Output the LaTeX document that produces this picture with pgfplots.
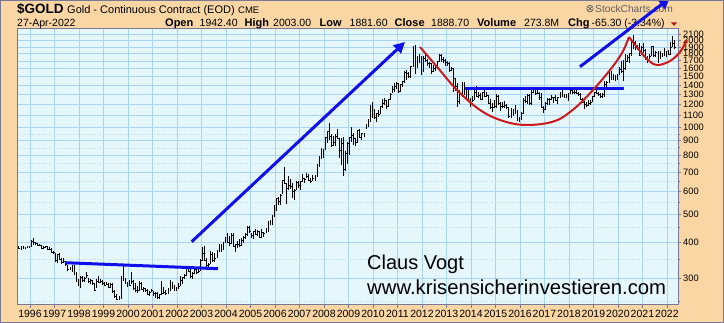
\documentclass[border=0pt]{standalone}
\usepackage{pgfplots}
\pgfplotsset{compat=1.18}
\usepackage{pgfplotstable}
\usepackage{fontspec}
\setmainfont{Liberation Sans}
\usetikzlibrary{arrows.meta}
\definecolor{outerbg}{RGB}{251,214,165}
\definecolor{plotbg}{RGB}{230,247,251}
\definecolor{gridmaj}{RGB}{168,212,245}
\definecolor{gridmin}{RGB}{185,222,246}
\definecolor{frameC}{RGB}{120,120,150}
\definecolor{annBlue}{RGB}{15,15,235}
\definecolor{annRed}{RGB}{205,25,25}
\definecolor{scgray}{RGB}{95,95,95}

\pgfplotstableread{
yr mo h l c
1995 7 390 381 383
1995 8 389 378 384
1995 9 388 381 384
1995 10 387 381 383
1995 11 389 383 387
1995 12 390 385 387
1996 1 408 387 405
1996 2 416 393 400
1996 3 401 393 396
1996 4 398 389 392
1996 5 395 389 391
1996 6 391 381 382
1996 7 390 380 385
1996 8 390 384 387
1996 9 388 378 379
1996 10 385 379 379
1996 11 383 370 371
1996 12 374 366 369
1997 1 368 345 346
1997 2 366 339 364
1997 3 369 347 350
1997 4 353 337 341
1997 5 352 339 345
1997 6 346 334 335
1997 7 335 318 324
1997 8 330 320 325
1997 9 335 317 332
1997 10 334 308 312
1997 11 315 292 296
1997 12 298 283 289
1998 1 305 278 304
1998 2 306 293 297
1998 3 303 292 301
1998 4 315 301 308
1998 5 302 290 293
1998 6 300 287 296
1998 7 296 287 288
1998 8 290 272 273
1998 9 300 278 294
1998 10 306 290 292
1998 11 300 290 294
1998 12 296 285 288
1999 1 293 283 285
1999 2 292 285 287
1999 3 290 278 280
1999 4 290 278 286
1999 5 290 267 272
1999 6 273 256 261
1999 7 265 252 255
1999 8 260 252 255
1999 9 305 254 299
1999 10 333 294 299
1999 11 301 288 292
1999 12 292 280 290
2000 1 296 282 284
2000 2 316 287 293
2000 3 296 276 277
2000 4 290 270 274
2000 5 283 268 273
2000 6 295 271 289
2000 7 293 275 276
2000 8 281 269 277
2000 9 278 270 273
2000 10 275 265 265
2000 11 272 262 270
2000 12 276 269 273
2001 1 272 262 266
2001 2 270 257 267
2001 3 269 255 258
2001 4 266 255 264
2001 5 295 263 267
2001 6 280 266 270
2001 7 273 265 266
2001 8 279 265 273
2001 9 296 271 293
2001 10 293 277 279
2001 11 285 271 275
2001 12 280 271 279
2002 1 289 277 282
2002 2 306 282 297
2002 3 303 288 302
2002 4 310 300 308
2002 5 328 307 326
2002 6 330 315 318
2002 7 326 301 305
2002 8 316 300 312
2002 9 326 312 324
2002 10 325 310 316
2002 11 324 314 317
2002 12 350 318 347
2003 1 385 346 367
2003 2 389 347 347
2003 3 353 320 334
2003 4 340 320 336
2003 5 375 336 363
2003 6 370 342 346
2003 7 367 341 354
2003 8 377 353 375
2003 9 394 370 385
2003 10 395 370 386
2003 11 400 376 397
2003 12 418 398 416
2004 1 430 399 400
2004 2 420 390 397
2004 3 430 396 424
2004 4 430 385 388
2004 5 396 372 393
2004 6 405 383 395
2004 7 410 385 392
2004 8 415 390 408
2004 9 420 398 416
2004 10 430 410 428
2004 11 455 422 452
2004 12 456 430 437
2005 1 430 414 423
2005 2 437 410 436
2005 3 445 423 428
2005 4 440 420 436
2005 5 437 413 418
2005 6 445 414 435
2005 7 436 418 430
2005 8 450 430 435
2005 9 475 435 473
2005 10 480 460 469
2005 11 498 459 496
2005 12 540 490 517
2006 1 570 515 568
2006 2 575 538 556
2006 3 590 540 584
2006 4 655 587 654
2006 5 730 640 643
2006 6 640 543 616
2006 7 680 608 633
2006 8 665 612 626
2006 9 640 570 599
2006 10 610 560 604
2006 11 650 605 646
2006 12 650 615 632
2007 1 655 605 650
2007 2 690 645 669
2007 3 670 640 663
2007 4 695 670 679
2007 5 690 650 656
2007 6 670 640 650
2007 7 685 650 666
2007 8 685 650 673
2007 9 745 675 743
2007 10 795 728 789
2007 11 848 780 783
2007 12 840 785 838
2008 1 930 835 924
2008 2 975 880 972
2008 3 1033 906 933
2008 4 950 860 865
2008 5 935 860 886
2008 6 950 860 930
2008 7 990 915 918
2008 8 920 785 833
2008 9 920 740 880
2008 10 930 681 718
2008 11 830 705 816
2008 12 890 750 882
2009 1 930 800 928
2009 2 1007 890 942
2009 3 960 870 919
2009 4 920 865 890
2009 5 980 880 979
2009 6 990 920 927
2009 7 960 908 954
2009 8 960 930 955
2009 9 1025 985 1004
2009 10 1070 1000 1040
2009 11 1195 1040 1182
2009 12 1227 1075 1096
2010 1 1162 1075 1081
2010 2 1125 1045 1118
2010 3 1145 1090 1113
2010 4 1180 1110 1179
2010 5 1250 1165 1213
2010 6 1265 1200 1245
2010 7 1245 1155 1181
2010 8 1250 1180 1248
2010 9 1310 1245 1307
2010 10 1388 1310 1357
2010 11 1424 1330 1386
2010 12 1431 1360 1421
2011 1 1425 1310 1333
2011 2 1415 1325 1411
2011 3 1445 1380 1439
2011 4 1570 1420 1556
2011 5 1577 1460 1536
2011 6 1560 1480 1500
2011 7 1633 1478 1628
2011 8 1920 1620 1827
2011 9 1923 1530 1620
2011 10 1760 1600 1725
2011 11 1800 1670 1746
2011 12 1760 1520 1565
2012 1 1763 1560 1740
2012 2 1792 1690 1710
2012 3 1720 1630 1669
2012 4 1680 1610 1664
2012 5 1667 1527 1561
2012 6 1640 1550 1604
2012 7 1630 1565 1614
2012 8 1690 1590 1688
2012 9 1795 1690 1776
2012 10 1800 1690 1719
2012 11 1755 1670 1711
2012 12 1725 1635 1675
2013 1 1695 1625 1663
2013 2 1680 1555 1578
2013 3 1618 1565 1597
2013 4 1610 1321 1476
2013 5 1487 1338 1393
2013 6 1425 1180 1234
2013 7 1348 1208 1313
2013 8 1434 1275 1396
2013 9 1434 1290 1327
2013 10 1360 1251 1323
2013 11 1362 1227 1253
2013 12 1268 1180 1202
2014 1 1280 1220 1244
2014 2 1345 1240 1321
2014 3 1392 1277 1283
2014 4 1330 1268 1292
2014 5 1315 1240 1250
2014 6 1330 1240 1327
2014 7 1346 1280 1282
2014 8 1325 1273 1287
2014 9 1290 1205 1211
2014 10 1255 1160 1171
2014 11 1210 1130 1175
2014 12 1240 1170 1184
2015 1 1307 1167 1279
2015 2 1290 1195 1212
2015 3 1225 1142 1183
2015 4 1225 1170 1183
2015 5 1232 1170 1190
2015 6 1205 1162 1172
2015 7 1175 1077 1095
2015 8 1170 1080 1132
2015 9 1160 1098 1114
2015 10 1192 1110 1141
2015 11 1145 1052 1065
2015 12 1090 1046 1061
2016 1 1130 1060 1116
2016 2 1264 1110 1238
2016 3 1285 1210 1234
2016 4 1300 1205 1292
2016 5 1305 1200 1215
2016 6 1360 1200 1320
2016 7 1377 1310 1350
2016 8 1375 1300 1309
2016 9 1352 1300 1313
2016 10 1325 1240 1272
2016 11 1310 1170 1173
2016 12 1185 1123 1152
2017 1 1220 1146 1211
2017 2 1265 1200 1253
2017 3 1262 1195 1249
2017 4 1296 1240 1268
2017 5 1275 1214 1268
2017 6 1298 1236 1242
2017 7 1275 1205 1269
2017 8 1330 1265 1322
2017 9 1362 1275 1284
2017 10 1306 1260 1271
2017 11 1300 1264 1276
2017 12 1310 1237 1309
2018 1 1367 1300 1345
2018 2 1366 1307 1318
2018 3 1356 1303 1327
2018 4 1370 1312 1315
2018 5 1326 1282 1299
2018 6 1310 1245 1253
2018 7 1266 1211 1224
2018 8 1237 1160 1206
2018 9 1220 1181 1192
2018 10 1245 1182 1215
2018 11 1239 1196 1225
2018 12 1285 1221 1282
2019 1 1330 1276 1325
2019 2 1350 1310 1316
2019 3 1330 1280 1298
2019 4 1310 1266 1285
2019 5 1310 1266 1305
2019 6 1442 1275 1413
2019 7 1450 1385 1437
2019 8 1555 1422 1529
2019 9 1566 1460 1472
2019 10 1526 1462 1514
2019 11 1518 1445 1465
2019 12 1530 1455 1519
2020 1 1613 1517 1589
2020 2 1691 1548 1566
2020 3 1705 1450 1596
2020 4 1789 1576 1694
2020 5 1775 1680 1751
2020 6 1800 1670 1800
2020 7 2006 1765 1986
2020 8 2089 1863 1978
2020 9 1992 1850 1895
2020 10 1935 1860 1879
2020 11 1966 1764 1780
2020 12 1907 1777 1895
2021 1 1962 1802 1850
2021 2 1875 1717 1734
2021 3 1760 1677 1716
2021 4 1800 1722 1768
2021 5 1917 1766 1905
2021 6 1919 1750 1771
2021 7 1836 1751 1817
2021 8 1834 1677 1814
2021 9 1836 1721 1757
2021 10 1815 1746 1784
2021 11 1877 1760 1776
2021 12 1833 1753 1828
2022 1 1853 1780 1796
2022 2 1976 1786 1900
2022 3 2078 1890 1954
2022 4 2003 1881 1889
}\gold

\begin{document}
\begin{tikzpicture}
\useasboundingbox (0,0) rectangle (724pt,-323pt);
\fill[outerbg] (0,0) rectangle (724pt,-323pt);
\begin{axis}[
  at={(17pt,-305pt)}, anchor=south west,
  width=661pt, height=276pt, scale only axis,
  xmin=1995.47, xmax=2022.45,
  ymode=log, ymin=243, ymax=2190,
  axis background/.style={fill=plotbg},
  axis line style={frameC, line width=1pt},
  xtick={1996,1997,...,2022},
  minor x tick num=1,
  ytick={300,400,500,600,700,800,900,1000,1100,1200,1300,1400,1500,1600,1700,1800,1900,2000,2100},
  yticklabels={300,400,500,600,700,800,900,1000,1100,1200,1300,1400,1500,1600,1700,1800,1900,2000,2100},
  minor ytick={250,350,450,550,650,750,850,950},
  grid=both,
  major grid style={gridmaj, line width=0.5pt},
  minor grid style={gridmin, line width=0.45pt, dotted},
  tick align=outside,
  major tick length=3pt, minor tick length=1.5pt,
  tick style={frameC, line width=0.6pt},
  xtick pos=bottom, ytick pos=right, yticklabel pos=right,
  /pgf/number format/1000 sep={},
  /pgf/number format/assume math mode=true,
  xticklabel style={font=\fontsize{10.5}{12}\selectfont, inner sep=0pt, anchor=north, yshift=-2pt},
  yticklabel style={font=\fontsize{9.3}{11}\selectfont, inner sep=0pt, anchor=west, xshift=2pt},
]
\addplot[draw=none, mark=none, forget plot,
  error bars/.cd, y dir=both, y explicit, error mark=none,
  error bar style={draw=black, solid, line width=0.55pt}]
  table[x expr=\thisrow{yr}+(\thisrow{mo}-0.5)/12, y=c,
        y error plus expr=\thisrow{h}-\thisrow{c},
        y error minus expr=\thisrow{c}-\thisrow{l}] {\gold};
\addplot[only marks, mark=-, mark size=0.8pt, black, mark options={line width=0.5pt}]
  table[x expr=\thisrow{yr}+(\thisrow{mo}-0.5)/12+0.03, y=c] {\gold};
\end{axis}
\begin{scope}[x=1pt,y=-1pt]
\clip (0,0) rectangle (724,323);
% header
\node[anchor=base west, inner sep=0pt, font=\fontsize{13.5}{14}\selectfont\bfseries] at (17,13.5) {\$GOLD};
\node[anchor=base west, inner sep=0pt, font=\fontsize{11}{12}\selectfont] at (67,13.5) {Gold - Continuous Contract (EOD)};
\node[anchor=base west, inner sep=0pt, font=\fontsize{9.5}{11}\selectfont] at (238,13.5) {CME};
\node[anchor=base west, inner sep=0pt, font=\fontsize{10.5}{12}\selectfont] at (17,26.5) {27-Apr-2022};
\begin{scope}[every node/.style={anchor=base west, inner sep=0pt, font=\fontsize{10.5}{12}\selectfont}]
\node[font=\fontsize{11}{12}\selectfont\bfseries] at (165,26.5) {Open};
\node at (199.5,26.5) {1942.40};
\node[font=\fontsize{11}{12}\selectfont\bfseries] at (244.5,26.5) {High};
\node at (273,26.5) {2003.00};
\node[font=\fontsize{11}{12}\selectfont\bfseries] at (319.5,26.5) {Low};
\node at (349.5,26.5) {1881.60};
\node[font=\fontsize{11}{12}\selectfont\bfseries] at (394.5,26.5) {Close};
\node at (431,26.5) {1888.70};
\node[font=\fontsize{11}{12}\selectfont\bfseries] at (477,26.5) {Volume};
\node at (524,26.5) {273.8M};
\node[font=\fontsize{11}{12}\selectfont\bfseries] at (568,26.5) {Chg};
\node at (591.5,26.5) {-65.30 (-3.34\%)};
\end{scope}
\fill[annRed!85!black] (671,22.5) -- (677,22.5) -- (674,25.8) -- cycle;
\draw[scgray, line width=0.7pt] (590,8.6) circle (3.3);
\draw[scgray, line width=0.7pt] (588.3,6.9) -- (591.7,10.3) (588.3,10.3) -- (591.7,6.9);
\node[anchor=base west, inner sep=0pt, font=\fontsize{10.2}{12}\selectfont, text=scgray] at (595,12.5) {StockCharts.com};
% big text
\node[anchor=base west, inner sep=0pt, font=\fontsize{20}{22}\selectfont] at (367,269.5) {Claus Vogt};
\node[anchor=base west, inner sep=0pt, font=\fontsize{20.3}{22}\selectfont] at (367,295) {www.krisensicherinvestieren.com};
% annotations
\draw[annBlue, line width=3pt] (65,262.7) -- (218,268.7);
\draw[annBlue, line width=3pt, -{Triangle[length=11pt,width=11pt]}] (191.7,241.7) -- (405,42);
\draw[annBlue, line width=3pt] (465,88.5) -- (624,88.5);
\draw[annBlue, line width=3pt, -{Triangle[length=11pt,width=11pt]}] (580,66.7) -- (670,-2);
\draw[annRed, line width=2pt] plot[smooth, tension=0.6] coordinates {(420,47) (438,68) (457,90) (480,110) (503,121) (527,125) (555,121) (575,108) (593,90) (610,70) (622,53) (629,37)};
\draw[annRed, line width=2pt] plot[smooth, tension=0.6] coordinates {(629,37) (636,46) (647,59) (657,65) (670,61) (680,52) (687,40)};
\draw[frameC, line width=1pt] (0.5,0.5) rectangle (723.5,322.5);
\end{scope}
\end{tikzpicture}
\end{document}
